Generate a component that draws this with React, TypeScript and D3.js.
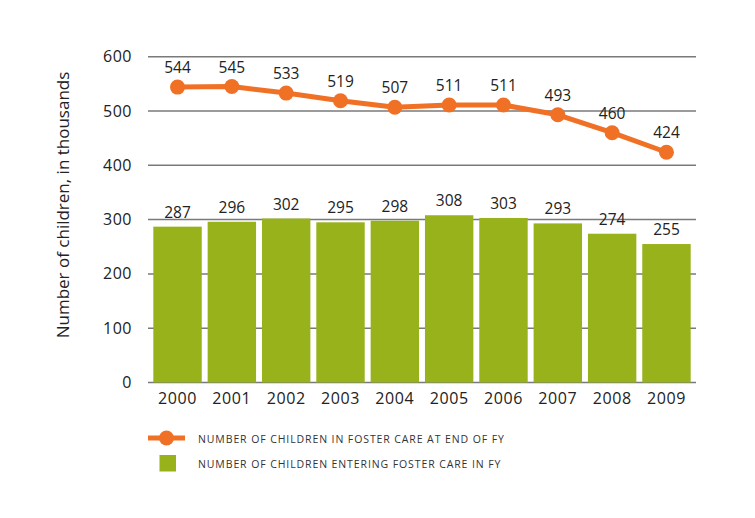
import React from "react";
import * as d3 from "d3";

const years = ["2000", "2001", "2002", "2003", "2004", "2005", "2006", "2007", "2008", "2009"];
const inCare = [544, 545, 533, 519, 507, 511, 511, 493, 460, 424];
const entering = [287, 296, 302, 295, 298, 308, 303, 293, 274, 255];
const yTicks = [0, 100, 200, 300, 400, 500, 600];
const legendLine = "NUMBER OF CHILDREN IN FOSTER CARE AT END OF FY";
const legendBar = "NUMBER OF CHILDREN ENTERING FOSTER CARE IN FY";
const yTitle = "Number of children, in thousands";

const W = 755, H = 518;
const ORANGE = "#f07125";
const GREEN = "#97b21b";
const FONT = "'Open Sans', sans-serif";

export default function App() {
  const x = d3.scaleBand<string>().domain(years).range([148, 696]).paddingInner(0.109).paddingOuter(0.098);
  const y = d3.scaleLinear().domain([0, 600]).range([382.5, 56.7]);
  const cx = (yr: string) => (x(yr) as number) + x.bandwidth() / 2;
  const line = d3.line<number>().x((_, i) => cx(years[i])).y((v) => y(v));

  return (
    <svg width={W} height={H} style={{ position: "absolute", left: 0, top: 0, background: "#fff" }} fontFamily={FONT}>
      {yTicks.map((t) => (
        <g key={t}>
          <line x1={148} x2={696} y1={y(t)} y2={y(t)} stroke="#7a7a7a" strokeWidth={1.5} />
          <text x={132} y={y(t) + 5.5} textAnchor="end" fontSize={16} letterSpacing={0.5} fill="#222">{t}</text>
        </g>
      ))}
      <text transform={`translate(69,205) rotate(-90)`} textAnchor="middle" fontSize={17} fill="#222">{yTitle}</text>
      {entering.map((v, i) => (
        <g key={years[i]}>
          <rect x={x(years[i])} y={y(v)} width={x.bandwidth()} height={y(0) - y(v)} fill={GREEN} />
          <text x={cx(years[i])} y={y(v) - 9} textAnchor="middle" fontSize={15.5} fill="#222">{v}</text>
          <text x={cx(years[i])} y={404} textAnchor="middle" fontSize={16} letterSpacing={0.6} fill="#222">{years[i]}</text>
        </g>
      ))}
      <path d={line(inCare) || ""} fill="none" stroke={ORANGE} strokeWidth={5} strokeLinejoin="round" />
      {inCare.map((v, i) => (
        <g key={"p" + years[i]}>
          <circle cx={cx(years[i])} cy={y(v)} r={7.5} fill={ORANGE} />
          <text x={cx(years[i])} y={y(v) - 14} textAnchor="middle" fontSize={15.5} fill="#222">{v}</text>
        </g>
      ))}
      <g>
        <line x1={148} x2={185} y1={438} y2={438} stroke={ORANGE} strokeWidth={5} />
        <circle cx={166.5} cy={438} r={7.5} fill={ORANGE} />
        <text x={198} y={442.5} fontSize={10.5} letterSpacing={0.9} fill="#333">{legendLine}</text>
        <rect x={159.5} y={455} width={16.5} height={16.5} fill={GREEN} />
        <text x={198} y={467.5} fontSize={10.5} letterSpacing={0.9} fill="#333">{legendBar}</text>
      </g>
    </svg>
  );
}
